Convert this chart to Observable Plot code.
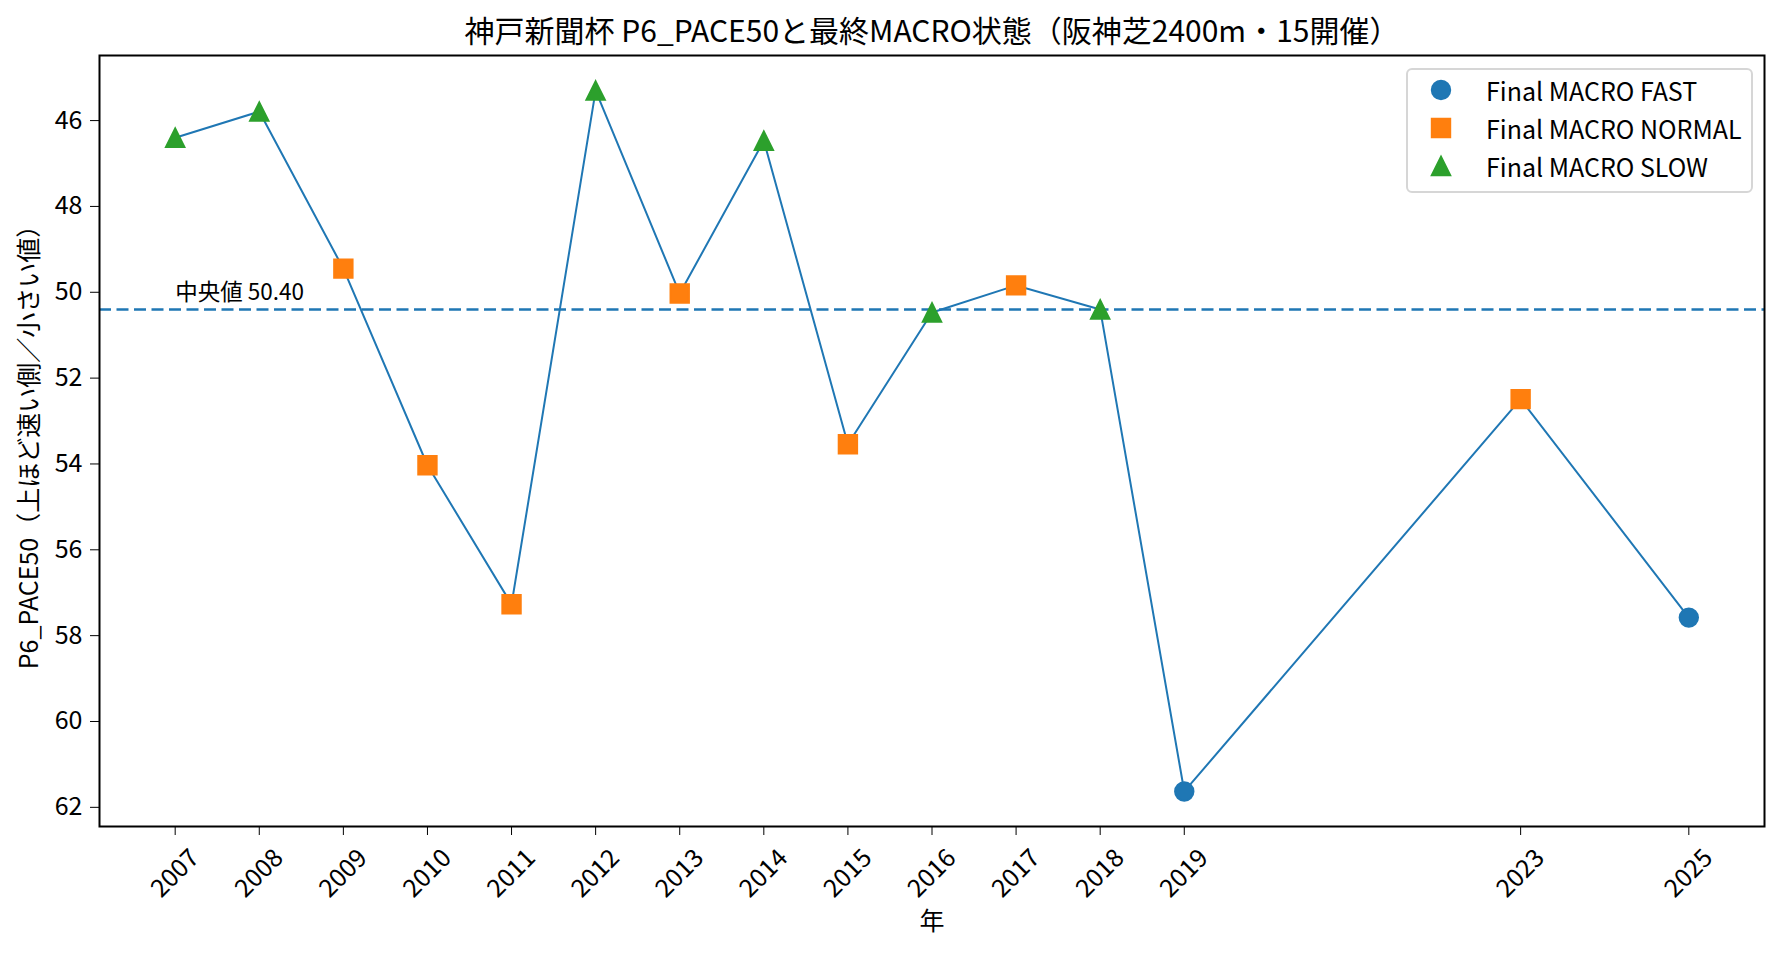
<!DOCTYPE html>
<html>
<head>
<meta charset="utf-8">
<script src="https://cdn.jsdelivr.net/npm/d3@7"></script>
<script src="https://cdn.jsdelivr.net/npm/@observablehq/plot@0.6"></script>
<style>
  html, body { margin: 0; padding: 0; background: #fff; }
  #wrap { position: relative; width: 1782px; height: 955px; font-family: "Noto Sans CJK JP", sans-serif; }
  #legend { position: absolute; left: 1406px; top: 68px; width: 343px; height: 121px;
    border: 2px solid #d6d6d6; border-radius: 6px; background: rgba(255,255,255,0.85); }
  .row { position: absolute; left: 0; height: 30px; display: flex; align-items: center; font-size: 25px; color: #000; }
  .row svg { position: absolute; left: 18px; }
  .row span { position: absolute; left: 78px; white-space: nowrap; line-height: 30px; }
</style>
</head>
<body>
<div id="wrap"></div>
<script>
const title = "神戸新聞杯 P6_PACE50と最終MACRO状態（阪神芝2400m・15開催）";
const yLabel = "P6_PACE50（上ほど速い側／小さい値）";
const xLabel = "年";
const years = [2007, 2008, 2009, 2010, 2011, 2012, 2013, 2014, 2015, 2016, 2017, 2018, 2019, 2023, 2025];
const pace = [46.40, 45.79, 49.45, 54.03, 57.27, 45.30, 50.03, 46.47, 53.54, 50.47, 49.84, 50.40, 61.63, 52.49, 57.58];
const states = ["SLOW", "SLOW", "NORMAL", "NORMAL", "NORMAL", "SLOW", "NORMAL", "SLOW", "NORMAL", "SLOW", "NORMAL", "SLOW", "FAST", "NORMAL", "FAST"];
const stateOrder = ["FAST", "NORMAL", "SLOW"];
const stateColors = ["#1f77b4", "#ff7f0e", "#2ca02c"];
const yTicks = [46, 48, 50, 52, 54, 56, 58, 60, 62];

const data = years.map((y, i) => ({year: y, pace: pace[i], state: states[i]}));
const median = d3.median(pace);

// matplotlib-like symbols
const squareSym = {draw(ctx, size) { const h = Math.sqrt(size / Math.PI);
  ctx.moveTo(-h, -h); ctx.lineTo(h, -h); ctx.lineTo(h, h); ctx.lineTo(-h, h); ctx.closePath(); }};
const triSym = {draw(ctx, size) { const h = Math.sqrt(size / Math.PI);
  ctx.moveTo(0, -h); ctx.lineTo(h, h); ctx.lineTo(-h, h); ctx.closePath(); }};
const symbols = {FAST: "circle", NORMAL: squareSym, SLOW: triSym};

const [ymin, ymax] = d3.extent(pace);
const ypad = (ymax - ymin) * 0.05;
const [xmin, xmax] = d3.extent(years);
const xpad = (xmax - xmin) * 0.05;

const W = 1782, H = 955;
const mL = 99, mR = 18, mT = 55, mB = 129;
const R = 9.2;

const dotMarks = stateOrder.map((s, i) => Plot.dot(data.filter(d => d.state === s), {
  x: "year", y: "pace", r: R, symbol: symbols[s], fill: stateColors[i], stroke: stateColors[i], strokeWidth: 2
}));

const chart = Plot.plot({
  width: W, height: H,
  marginLeft: mL, marginRight: mR, marginTop: mT, marginBottom: mB,
  style: {fontFamily: "'Noto Sans CJK JP', sans-serif", fontSize: "25px", background: "white", color: "black", overflow: "visible"},
  x: {domain: [xmin - xpad, xmax + xpad]},
  y: {domain: [ymin - ypad, ymax + ypad], reverse: true},
  marks: [
    Plot.ruleY([median], {stroke: "#1f77b4", strokeWidth: 2.6, strokeDasharray: "12,5.5"}),
    Plot.text([`中央値 ${median.toFixed(2)}`], {x: () => years[0], y: () => median, text: d => d,
      textAnchor: "start", lineAnchor: "bottom", dy: -9, fontSize: 22.5, fill: "black"}),
    Plot.line(data, {x: "year", y: "pace", stroke: "#1f77b4", strokeWidth: 2}),
    ...dotMarks,
    Plot.frame({stroke: "black", strokeWidth: 2}),
    Plot.axisY({ticks: yTicks, tickSize: 9, tickPadding: 8, tickFormat: d => String(d), label: null, fontSize: 25}),
    Plot.axisX({ticks: years, tickSize: 9, tickFormat: () => "", label: null}),
    Plot.text(years, {x: d => d, frameAnchor: "bottom", dy: 47, rotate: -45, text: d => String(d),
      textAnchor: "middle", lineAnchor: "middle", fontSize: 25, fill: "black"}),
    Plot.text([yLabel], {frameAnchor: "left", dx: -70, rotate: -90, text: d => d,
      textAnchor: "middle", lineAnchor: "middle", fontSize: 25, fill: "black"}),
    Plot.text([xLabel], {frameAnchor: "bottom", dy: 95, text: d => d,
      textAnchor: "middle", lineAnchor: "middle", fontSize: 25, fill: "black"}),
    Plot.text([title], {frameAnchor: "top", dy: -23, text: d => d,
      textAnchor: "middle", lineAnchor: "middle", fontSize: 30, fill: "black"})
  ]
});

const wrap = document.getElementById("wrap");
wrap.appendChild(chart);

// legend
const legend = document.createElement("div");
legend.id = "legend";
const rowTops = [5, 43, 81];
stateOrder.forEach((s, i) => {
  const row = document.createElement("div");
  row.className = "row";
  row.style.top = rowTops[i] + "px";
  const svg = d3.create("svg").attr("width", 30).attr("height", 30);
  const g = svg.append("g").attr("transform", "translate(15,15)");
  if (s === "FAST") {
    g.append("circle").attr("r", R).attr("fill", stateColors[i]).attr("stroke", stateColors[i]).attr("stroke-width", 2);
  } else {
    const p = d3.path();
    symbols[s].draw(p, R * R * Math.PI);
    g.append("path").attr("d", p.toString()).attr("fill", stateColors[i]).attr("stroke", stateColors[i]).attr("stroke-width", 2);
  }
  row.appendChild(svg.node());
  const span = document.createElement("span");
  span.textContent = "Final MACRO " + s;
  row.appendChild(span);
  legend.appendChild(row);
});
wrap.appendChild(legend);
</script>
</body>
</html>
